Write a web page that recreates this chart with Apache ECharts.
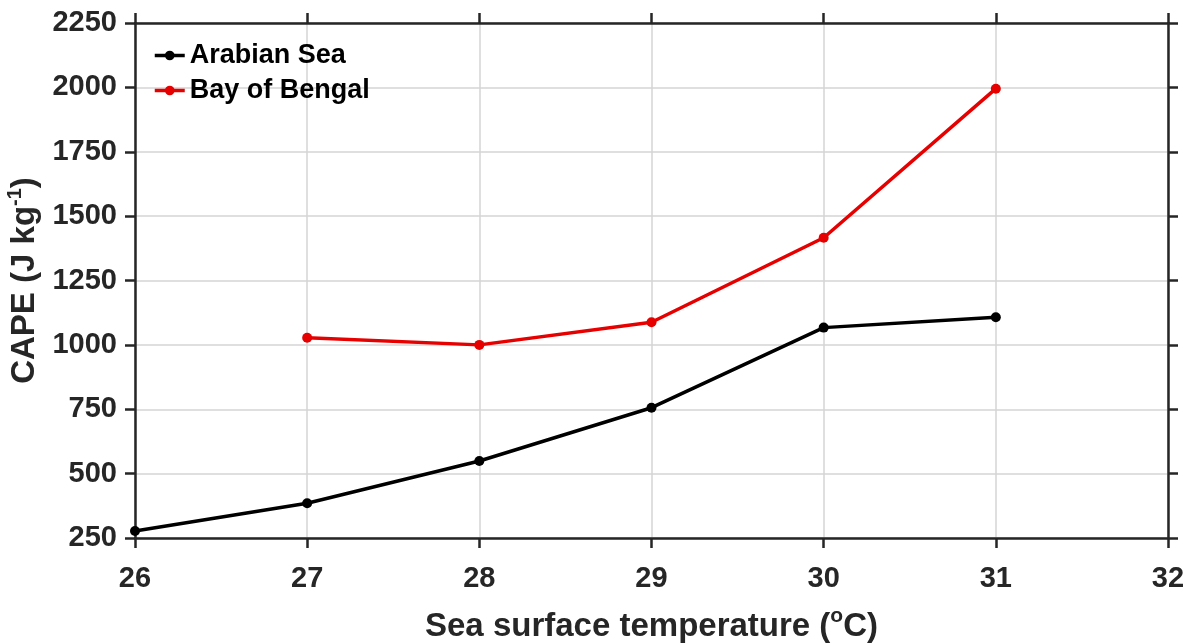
<!DOCTYPE html>
<html>
<head>
<meta charset="utf-8">
<script src="https://cdn.jsdelivr.net/npm/echarts@6/dist/echarts.min.js"></script>
<style>html,body{margin:0;padding:0;background:#fff}#c{width:1190px;height:643px}</style>
</head>
<body>
<div id="c"></div>
<script>
var sst = [26, 27, 28, 29, 30, 31];
var arabianSea = [277, 385, 549, 756, 1067, 1107];
var bayOfBengal = [null, 1028, 1000, 1088, 1416, 1995];
var xTicks = [26, 27, 28, 29, 30, 31, 32];
var yTicks = [250, 500, 750, 1000, 1250, 1500, 1750, 2000, 2250];

var FONT = 'Liberation Sans, Arial, sans-serif';
var AX = '#262626';

function pairs(vals) {
  var out = [];
  for (var i = 0; i < sst.length; i++) {
    if (vals[i] !== null) out.push([sst[i], vals[i]]);
  }
  return out;
}

var chart = echarts.init(document.getElementById('c'), null, {renderer: 'canvas'});
var baseX = {
  type: 'value', min: xTicks[0], max: xTicks[xTicks.length - 1], interval: 1,
  axisLine: {show: true, onZero: false, lineStyle: {color: AX, width: 2.5}},
  axisTick: {show: true, inside: false, length: 10, lineStyle: {color: AX, width: 2.5}},
  splitLine: {show: false}
};
var baseY = {
  type: 'value', min: yTicks[0], max: yTicks[yTicks.length - 1], interval: 250,
  axisLine: {show: true, onZero: false, lineStyle: {color: AX, width: 2.5}},
  axisTick: {show: true, inside: false, length: 10, lineStyle: {color: AX, width: 2.5}},
  splitLine: {show: false}
};

chart.setOption({
  animation: false,
  backgroundColor: '#fff',
  grid: {left: 135, right: 22, top: 23, bottom: 105, containLabel: false, outerBoundsMode: 'none'},
  legend: {
    orient: 'vertical', left: 148, top: 37, itemGap: 8,
    itemWidth: 30, itemHeight: 12,
    lineStyle: {width: 3.5},
    textStyle: {fontFamily: FONT, fontWeight: 'bold', fontSize: 27, color: '#000'},
    data: ['Arabian Sea', 'Bay of Bengal']
  },
  xAxis: [
    Object.assign({}, baseX, {
      position: 'bottom',
      axisLabel: {show: true, margin: 26, fontFamily: FONT, fontWeight: 'bold', fontSize: 29, color: AX,
        formatter: function (v) { return String(v); }},
      splitLine: {show: true, lineStyle: {color: '#d4d4d4', width: 1.5}},
      name: 'Sea surface temperature ({sup|o}C)',
      nameLocation: 'middle', nameGap: 68,
      nameTextStyle: {
        fontFamily: FONT, fontWeight: 'bold', fontSize: 33, color: AX,
        rich: {sup: {fontFamily: FONT, fontWeight: 'bold', fontSize: 21, color: AX, padding: [0, 0, 20, 0]}}
      }
    }),
    Object.assign({}, baseX, {position: 'top', axisLabel: {show: false}})
  ],
  yAxis: [
    Object.assign({}, baseY, {
      position: 'left',
      axisLabel: {show: true, margin: 18, fontFamily: FONT, fontWeight: 'bold', fontSize: 29, color: AX,
        formatter: function (v) { return String(v); }},
      splitLine: {show: true, lineStyle: {color: '#d4d4d4', width: 1.5}},
      name: 'CAPE (J kg{sup|-1})',
      nameLocation: 'middle', nameGap: 79,
      nameTextStyle: {
        fontFamily: FONT, fontWeight: 'bold', fontSize: 33, color: AX,
        rich: {sup: {fontFamily: FONT, fontWeight: 'bold', fontSize: 20, color: AX, padding: [0, 0, 20, 0]}}
      }
    }),
    Object.assign({}, baseY, {position: 'right', axisLabel: {show: false}})
  ],
  series: [
    {
      name: 'Arabian Sea', type: 'line', data: pairs(arabianSea),
      xAxisIndex: 0, yAxisIndex: 0,
      symbol: 'circle', symbolSize: 10,
      lineStyle: {color: '#000', width: 3.5},
      itemStyle: {color: '#000'}
    },
    {
      name: 'Bay of Bengal', type: 'line', data: pairs(bayOfBengal),
      xAxisIndex: 0, yAxisIndex: 0,
      symbol: 'circle', symbolSize: 10,
      lineStyle: {color: '#e60000', width: 3.5},
      itemStyle: {color: '#e60000'}
    }
  ]
});
</script>
</body>
</html>
